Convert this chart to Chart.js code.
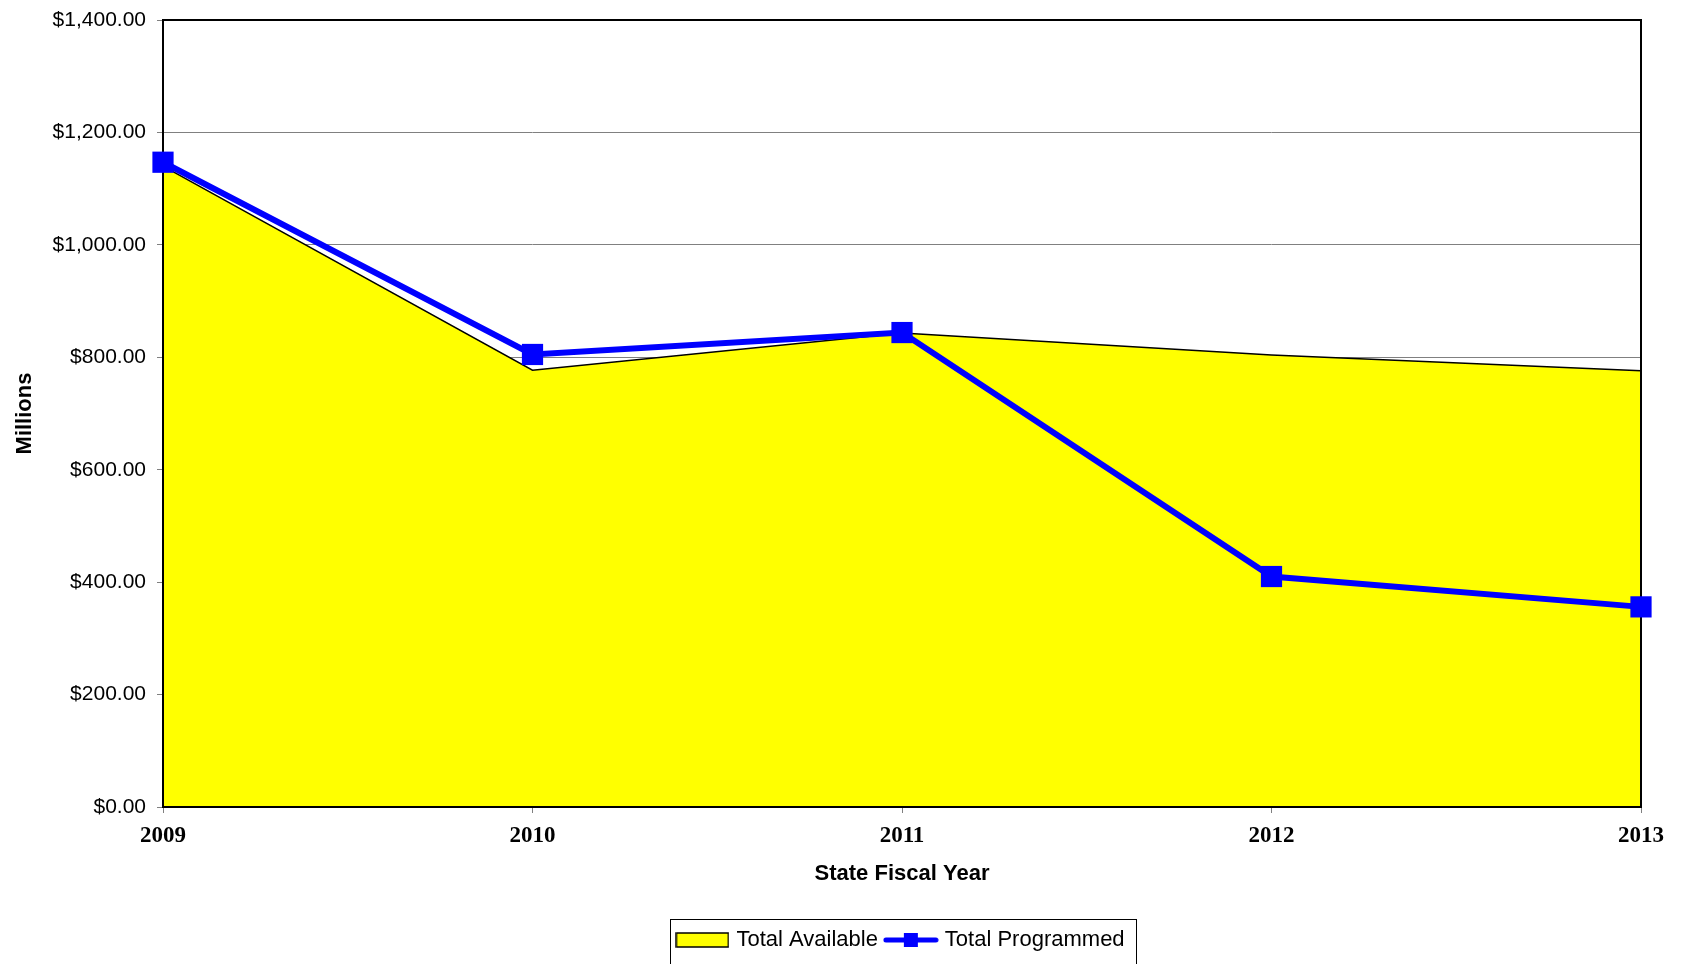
<!DOCTYPE html>
<html>
<head>
<meta charset="utf-8">
<title>Total Available vs Total Programmed</title>
<script src="https://cdn.jsdelivr.net/npm/chart.js@4.4.1/dist/chart.umd.min.js"></script>
<style>
  html, body { margin: 0; padding: 0; background: #fff; }
  #wrap { width: 1682px; height: 964px; position: relative; }
</style>
</head>
<body>
<div id="wrap"><canvas id="chart"></canvas></div>
<script>
// values in millions of dollars
const years = ["2009", "2010", "2011", "2012", "2013"];
const totalAvailable = [1140, 777, 843, 804, 776];
const totalProgrammed = [1147, 805, 844, 410, 356];
const yTicks = [0, 200, 400, 600, 800, 1000, 1200, 1400];

const money = (v) => "$" + v.toLocaleString("en-US", { minimumFractionDigits: 2, maximumFractionDigits: 2 });

// legend swatches drawn to small canvases
function makeSwatch() {
  const c = document.createElement("canvas");
  c.width = 54; c.height = 16;
  const g = c.getContext("2d");
  g.fillStyle = "#ffff00";
  g.fillRect(1, 1, 52, 14);
  g.strokeStyle = "#000";
  g.lineWidth = 1.5;
  g.strokeRect(1, 1, 52, 14);
  return c;
}
function makeLineMark() {
  const c = document.createElement("canvas");
  c.width = 56; c.height = 16;
  const g = c.getContext("2d");
  g.strokeStyle = "#0000ff";
  g.lineWidth = 5;
  g.lineCap = "round";
  g.beginPath();
  g.moveTo(3, 8);
  g.lineTo(53, 8);
  g.stroke();
  g.fillStyle = "#0000ff";
  g.fillRect(21, 1, 14, 14);
  return c;
}
const swatch = makeSwatch();
const lineMark = makeLineMark();

// black frame round the plot, drawn after the area but below the blue line
const framePlugin = {
  id: "frame",
  afterDatasetDraw(chart, args) {
    if (args.index !== 0) return;
    const a = chart.chartArea;
    const ctx = chart.ctx;
    ctx.save();
    ctx.strokeStyle = "#000";
    ctx.lineWidth = 2;
    ctx.strokeRect(a.left, a.top, a.right - a.left, a.bottom - a.top);
    ctx.restore();
  },
};

// border box round the legend items
const legendBoxPlugin = {
  id: "legendBox",
  afterDraw(chart) {
    const lg = chart.legend;
    if (!lg || !lg.legendHitBoxes || !lg.legendHitBoxes.length) return;
    const boxes = lg.legendHitBoxes;
    const left = Math.min(...boxes.map((b) => b.left)) - 9;
    const right = Math.max(...boxes.map((b) => b.left + b.width)) + 12;
    const ctx = chart.ctx;
    ctx.save();
    ctx.strokeStyle = "#000";
    ctx.lineWidth = 1;
    ctx.strokeRect(Math.round(left) + 0.5, Math.round(lg.top) + 0.5, Math.round(right - left), 60);
    ctx.restore();
  },
};

const ctx = document.getElementById("chart").getContext("2d");
new Chart(ctx, {
  type: "line",
  data: {
    labels: years,
    datasets: [
      {
        label: "Total Available",
        data: totalAvailable,
        fill: "origin",
        backgroundColor: "#ffff00",
        borderColor: "#000000",
        borderWidth: 1.5,
        pointRadius: 0,
        tension: 0,
        order: 1,
      },
      {
        label: "Total Programmed",
        data: totalProgrammed,
        fill: false,
        borderColor: "#0000ff",
        borderWidth: 6,
        pointStyle: "rect",
        pointRadius: 15,
        pointBackgroundColor: "#0000ff",
        pointBorderColor: "#0000ff",
        pointBorderWidth: 0,
        tension: 0,
        clip: false,
        order: 0,
      },
    ],
  },
  options: {
    responsive: true,
    maintainAspectRatio: false,
    animation: false,
    layout: { padding: { top: 20, right: 41, left: 0, bottom: 3 } },
    plugins: {
      tooltip: { enabled: false },
      legend: {
        position: "bottom",
        fullSize: false,
        labels: {
          usePointStyle: true,
          pointStyleWidth: 46,
          padding: 10,
          color: "#000",
          font: { family: "'Liberation Sans', Arial, sans-serif", size: 22 },
          generateLabels(chart) {
            return chart.data.datasets.map((ds, i) => ({
              text: ds.label,
              datasetIndex: i,
              pointStyle: i === 0 ? swatch : lineMark,
              fillStyle: ds.backgroundColor,
              strokeStyle: ds.borderColor,
              lineWidth: 0,
              hidden: false,
              fontColor: "#000",
            }));
          },
        },
      },
    },
    scales: {
      x: {
        offset: false,
        grid: { display: true, drawOnChartArea: false, drawTicks: true, tickLength: 6, color: "#808080" },
        border: { display: false },
        ticks: {
          color: "#000",
          padding: 9,
          maxRotation: 0,
          font: { family: "'Liberation Serif', 'Times New Roman', serif", size: 23, weight: "bold" },
        },
        title: {
          display: true,
          text: "State Fiscal Year",
          color: "#000",
          padding: { top: 32, bottom: 32 },
          font: { family: "'Liberation Sans', Arial, sans-serif", size: 22, weight: "bold" },
        },
        afterFit(scale) { scale.height = 112; },
      },
      y: {
        min: 0,
        max: 1400,
        afterBuildTicks(scale) { scale.ticks = yTicks.map((v) => ({ value: v })); },
        grid: { color: "#808080", lineWidth: 1, tickLength: 6 },
        border: { display: false },
        ticks: {
          color: "#000",
          padding: 11,
          callback: (v) => money(v),
          font: { family: "'Liberation Sans', Arial, sans-serif", size: 21 },
        },
        title: {
          display: true,
          text: "Millions",
          color: "#000",
          padding: { top: 12, bottom: 12 },
          font: { family: "'Liberation Sans', Arial, sans-serif", size: 22, weight: "bold" },
        },
        afterFit(scale) {
          scale.width = 163;
          scale.paddingTop = 0;
          scale.paddingBottom = 0;
        },
      },
    },
  },
  plugins: [framePlugin, legendBoxPlugin],
});
</script>
</body>
</html>
